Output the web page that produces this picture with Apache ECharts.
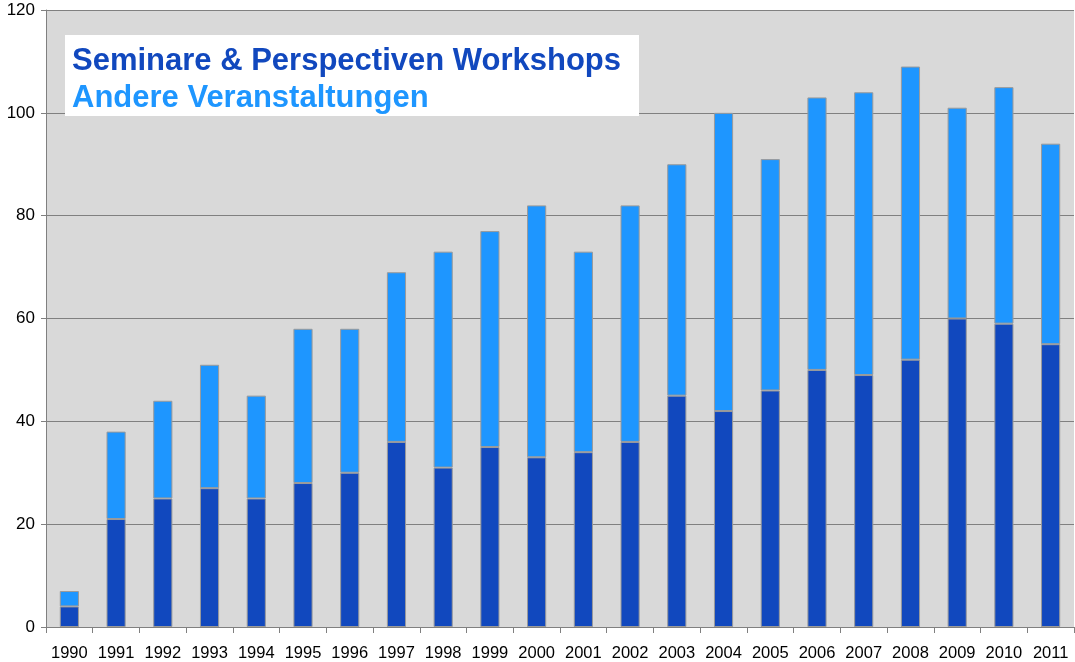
<!DOCTYPE html>
<html lang="de">
<head>
    <meta charset="UTF-8">
    <title>Veranstaltungen 1990-2011</title>
    <style>
        html, body { margin: 0; padding: 0; background: #fff; }
        #chart { width: 1075px; height: 662px; }
    </style>
</head>
<body>
<div id="chart"></div>
<script src="https://cdn.jsdelivr.net/npm/echarts@6/dist/echarts.min.js"></script>
<script type="text/javascript">
    var years = ['1990', '1991', '1992', '1993', '1994', '1995', '1996', '1997', '1998', '1999', '2000',
        '2001', '2002', '2003', '2004', '2005', '2006', '2007', '2008', '2009', '2010', '2011'];
    // Seminare & Perspectiven Workshops
    var seminare = [4, 21, 25, 27, 25, 28, 30, 36, 31, 35, 33, 34, 36, 45, 42, 46, 50, 49, 52, 60, 59, 55];
    // Andere Veranstaltungen (stacked on top)
    var andere = [3, 17, 19, 24, 20, 30, 28, 33, 42, 42, 49, 39, 46, 45, 58, 45, 53, 55, 57, 41, 46, 39];
    var yTicks = [0, 20, 40, 60, 80, 100, 120];

    var chart = echarts.init(document.getElementById('chart'));

    chart.setOption({
        animation: false,
        textStyle: {fontFamily: 'Liberation Sans, Arial, sans-serif'},
        grid: {left: 46, right: 1, top: 10, bottom: 35, show: true,
            backgroundColor: '#d9d9d9', borderWidth: 0},
        legend: {
            left: 65, top: 35,
            orient: 'vertical',
            icon: 'none',
            itemWidth: 0, itemHeight: 0, itemGap: 6,
            padding: [11, 18, 2, 2],
            backgroundColor: '#fff',
            selectedMode: false,
            textStyle: {fontSize: 31, fontWeight: 'bold'},
            data: [
                {name: 'Seminare & Perspectiven Workshops', textStyle: {color: '#1148be'}},
                {name: 'Andere Veranstaltungen', textStyle: {color: '#1e96ff'}}
            ]
        },
        xAxis: {
            type: 'category',
            data: years,
            axisLine: {lineStyle: {color: '#808080', width: 1}},
            axisTick: {show: true, length: 6, lineStyle: {color: '#808080'}},
            axisLabel: {interval: 0, color: '#000', fontSize: 16.5, margin: 18}
        },
        yAxis: {
            type: 'value',
            min: yTicks[0], max: yTicks[yTicks.length - 1], interval: 20,
            axisLine: {show: true, lineStyle: {color: '#808080'}},
            axisTick: {show: true, length: 5, lineStyle: {color: '#808080'}},
            axisLabel: {color: '#000', fontSize: 17, margin: 11},
            splitLine: {lineStyle: {color: '#808080', width: 1}}
        },
        series: [
            {
                name: 'Seminare & Perspectiven Workshops',
                type: 'bar', stack: 'total',
                data: seminare,
                barWidth: '41%',
                itemStyle: {color: '#1148be', borderColor: '#9a9a9a', borderWidth: 1}
            },
            {
                name: 'Andere Veranstaltungen',
                type: 'bar', stack: 'total',
                data: andere,
                barWidth: '41%',
                itemStyle: {color: '#1e96ff', borderColor: '#9a9a9a', borderWidth: 1}
            }
        ]
    });
</script>
</body>
</html>
